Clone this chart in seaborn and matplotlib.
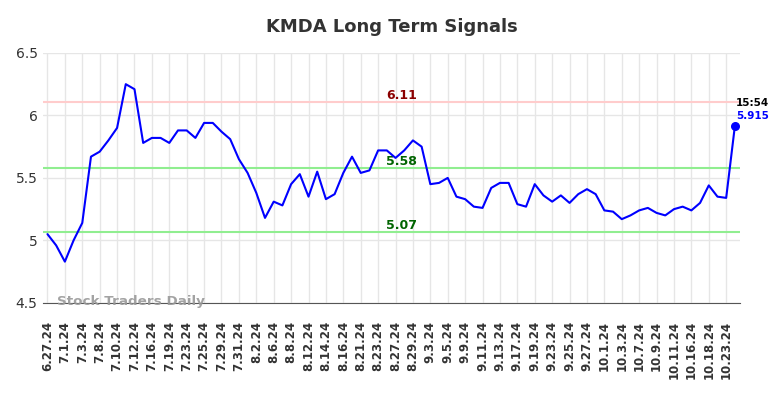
import matplotlib
matplotlib.use('Agg')
import matplotlib.pyplot as plt
import seaborn as sns
import pandas as pd

# Closing prices, one per trading day
prices = [5.05, 4.96, 4.83, 5.00, 5.14, 5.67, 5.71, 5.80, 5.90, 6.25,
          6.21, 5.78, 5.82, 5.82, 5.78, 5.88, 5.88, 5.82, 5.94, 5.94,
          5.87, 5.81, 5.65, 5.54, 5.38, 5.18, 5.31, 5.28, 5.45, 5.53,
          5.35, 5.55, 5.33, 5.37, 5.54, 5.67, 5.54, 5.56, 5.72, 5.72,
          5.66, 5.72, 5.80, 5.75, 5.45, 5.46, 5.50, 5.35, 5.33, 5.27,
          5.26, 5.42, 5.46, 5.46, 5.29, 5.27, 5.45, 5.36, 5.31, 5.36,
          5.30, 5.37, 5.41, 5.37, 5.24, 5.23, 5.17, 5.20, 5.24, 5.26,
          5.22, 5.20, 5.25, 5.27, 5.24, 5.30, 5.44, 5.35, 5.34, 5.915]

# Every other trading day gets a label
tick_labels = ['6.27.24', '7.1.24', '7.3.24', '7.8.24', '7.10.24', '7.12.24',
               '7.16.24', '7.19.24', '7.23.24', '7.25.24', '7.29.24', '7.31.24',
               '8.2.24', '8.6.24', '8.8.24', '8.12.24', '8.14.24', '8.16.24',
               '8.21.24', '8.23.24', '8.27.24', '8.29.24', '9.3.24', '9.5.24',
               '9.9.24', '9.11.24', '9.13.24', '9.17.24', '9.19.24', '9.23.24',
               '9.25.24', '9.27.24', '10.1.24', '10.3.24', '10.7.24', '10.9.24',
               '10.11.24', '10.16.24', '10.18.24', '10.23.24']

# Signal levels
resistance = 6.11
supports = [5.58, 5.07]
last_time = '15:54'

df = pd.DataFrame({'day': range(len(prices)), 'price': prices})

sns.set_style('white')
fig = plt.figure(figsize=(7.84, 3.98), dpi=100)
ax = fig.add_axes([0.055, 0.239, 0.889, 0.628])

# Grid
ax.set_xticks(range(0, len(prices), 2))
ax.set_xticklabels(tick_labels, rotation=90, fontsize=8.5, fontweight='bold', color='#333333')
ax.set_yticks([4.5, 5, 5.5, 6, 6.5])
ax.set_yticklabels(['4.5', '5', '5.5', '6', '6.5'], fontsize=10, color='#333333')
ax.grid(True, color='#e6e6e6', linewidth=1)
ax.set_axisbelow(True)
ax.tick_params(axis='y', length=0, pad=4)
ax.tick_params(axis='x', length=0, pad=13)

# Signal lines
ax.axhline(resistance, color='#ffcccc', linewidth=1.5, zorder=1)
for s in supports:
    ax.axhline(s, color='#90ee90', linewidth=1.5, zorder=1)

mid = 40.7
ax.text(mid, resistance + 0.022, f'{resistance:.2f}', color='#8b0000', fontsize=9,
        fontweight='bold', ha='center', va='baseline')
for s in supports:
    ax.text(mid, s + 0.022, f'{s:.2f}', color='#006400', fontsize=9,
            fontweight='bold', ha='center', va='baseline')

sns.lineplot(data=df, x='day', y='price', color='blue', linewidth=1.5, ax=ax, zorder=3)
ax.scatter([df['day'].iloc[-1]], [df['price'].iloc[-1]], color='blue', s=30, zorder=4)

# Last value annotation
ax.text(len(prices) - 1 + 0.1, 6.076, last_time, color='black', fontsize=7.5,
        fontweight='bold', ha='left', va='baseline', clip_on=False)
ax.text(len(prices) - 1 + 0.1, 5.972, f'{prices[-1]}', color='blue', fontsize=7.5,
        fontweight='bold', ha='left', va='baseline', clip_on=False)

# Watermark
ax.text(1.15, 4.484, 'Stock Traders Daily', color='#999999', fontsize=9.7,
        fontweight='bold', ha='left', va='baseline', alpha=0.9, clip_on=False)

ax.set_xlim(-0.5, 79.6)
ax.set_ylim(4.5, 6.5)
ax.set_xlabel('')
ax.set_ylabel('')
for side in ['top', 'right', 'left']:
    ax.spines[side].set_visible(False)
ax.spines['bottom'].set_color('#555555')

fig.suptitle('KMDA Long Term Signals', fontsize=13, fontweight='bold', color='#333333', y=0.955)

fig.savefig('out.png', dpi=100)
